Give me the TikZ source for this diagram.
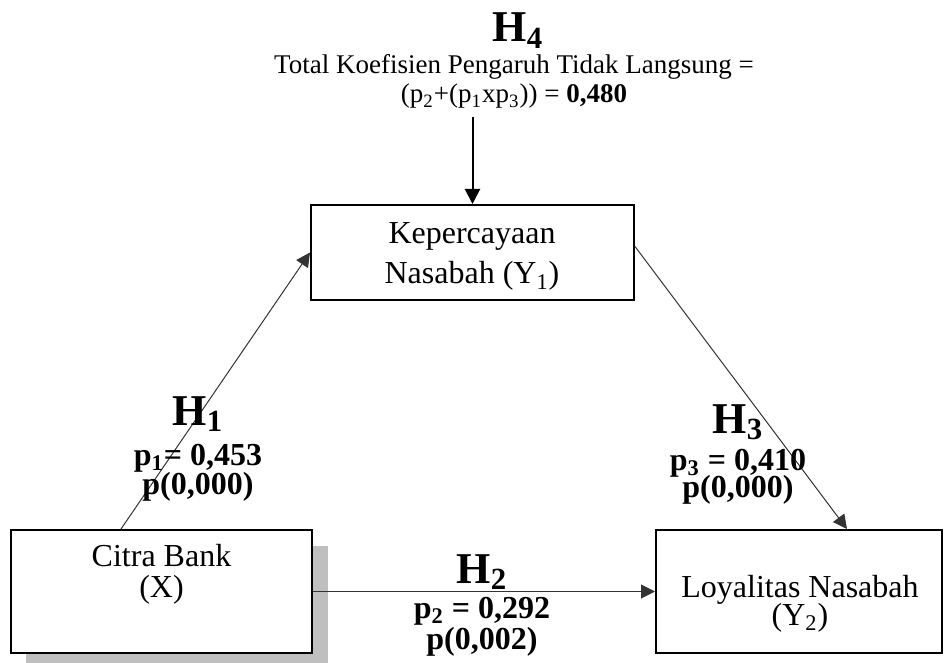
\documentclass[tikz,border=0pt]{standalone}
\usepackage{fontspec}
\setmainfont{Liberation Serif}
\usetikzlibrary{arrows.meta}

\begin{document}
\begin{tikzpicture}[
  x=0.5pt, y=-0.5pt,
  box/.style={draw=black, line width=1pt, fill=white, minimum width=#1, minimum height=61.5pt, inner sep=0pt},
  boxtext/.style={font=\fontsize{16}{19}\selectfont, anchor=base, inner sep=0pt},
  toptext/.style={font=\fontsize{13.5}{16}\selectfont, anchor=base, inner sep=0pt},
  hlabel/.style={font=\fontsize{22}{26}\selectfont\bfseries, anchor=base, inner sep=0pt},
  hgroup/.style={align=center, anchor=north, inner sep=0pt, font=\bfseries\fontsize{16}{14.5}\selectfont,
    execute at begin node={\lineskiplimit=-\maxdimen\lineskip=0pt}},
  link/.style={-{Triangle[length=7pt,width=7pt]}, line width=0.5pt, black!80}
]
\useasboundingbox (0,0) rectangle (944,663);

% H4 -- total indirect effect
\node[hlabel] (H4) at (518, 42) {H\textsubscript{4}};
\node[toptext] (H4a) at (514, 74) {Total Koefisien Pengaruh Tidak Langsung =};
\node[toptext] (H4b) at (514, 103) {(p\textsubscript{2}+(p\textsubscript{1}xp\textsubscript{3})) = \textbf{0,480}};
\coordinate (H4arrow) at (472.5, 117);

% Boxes (shadow under Citra Bank first)
\fill[black!25] (26, 546) rectangle (328, 663);
\node[box=161.5pt, minimum height=47.5pt] (Y1) at (472.5, 252.5) {};
\node[box=150.5pt] (X) at (161.5, 591.5) {};
\node[box=143pt] (Y2) at (799, 591.5) {};

% Box texts
\node[boxtext] (Y1a) at (472, 244) {Kepercayaan};
\node[boxtext] (Y1b) at (472, 284) {Nasabah (Y\textsubscript{1})};
\node[boxtext] (Xa) at (161.5, 567) {Citra Bank};
\node[boxtext] (Xb) at (161.5, 597) {(X)};
\node[boxtext] (Y2a) at (800, 597) {Loyalitas Nasabah};
\node[boxtext] (Y2b) at (800, 625) {(Y\textsubscript{2})};

% Paths
\draw[-{Triangle[length=7.5pt,width=7.5pt]}, line width=1pt] (H4arrow) -- (Y1.north);
\draw[link] ([xshift=55.5pt]X.north west) -- (Y1.west);
\draw[link] (X.east) -- (Y2.west);
\draw[link] ([yshift=3pt]Y1.east) -- ([xshift=96pt]Y2.north west);

% Path coefficients
\node[hgroup] (H1) at (198, 396) {{\fontsize{22}{22}\selectfont H\textsubscript{1}}\\[5.5pt]
  p\textsubscript{1}= 0,453\\ p(0,000)};
\node[hgroup] (H2) at (482, 554) {{\fontsize{22}{22}\selectfont H\textsubscript{2}}\\[3pt]
  p\textsubscript{2} = 0,292\\[1pt] p(0,002)};
\node[hgroup] (H3) at (738, 404) {{\fontsize{22}{22}\selectfont H\textsubscript{3}}\\[4pt]
  p\textsubscript{3} = 0,410\\[-1pt] p(0,000)};

\end{tikzpicture}
\end{document}
